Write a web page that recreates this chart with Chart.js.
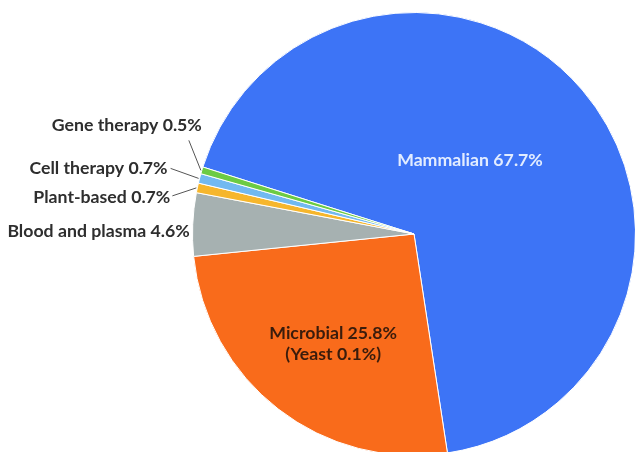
<!DOCTYPE html>
<html>
<head>
<meta charset="utf-8">
<script src="https://cdn.jsdelivr.net/npm/chart.js@4/dist/chart.umd.min.js"></script>
<style>
  html, body { margin: 0; padding: 0; overflow: hidden; background: #fff; }
  #wrap { position: absolute; left: 0; top: 0; width: 640px; height: 470px; }
</style>
</head>
<body>
<div id="wrap"><canvas id="chart"></canvas></div>
<script>
const categories = ['Mammalian', 'Microbial', 'Blood and plasma', 'Plant-based', 'Cell therapy', 'Gene therapy'];
const shares = [67.7, 25.8, 4.6, 0.7, 0.7, 0.5];
const sliceColors = ['#3d74f6', '#f96b1b', '#a6b1b1', '#f6b62c', '#72b9f0', '#6ccb43'];
const yeastShare = 0.1;

// label placement for the small slices outside the pie (offset from slice edge)
const outsideLabels = {
  'Gene therapy': { dx: 2, dy: -45, lx: -13, ly: -30 },
  'Cell therapy': { dx: -30, dy: -10, lx: -29, ly: -10 },
  'Plant-based': { dx: -25, dy: 9, lx: -25, ly: 8 },
  'Blood and plasma': { dx: -1, dy: 7, lx: null, ly: null }
};

const pieLabels = {
  id: 'pieLabels',
  afterDatasetsDraw(chart) {
    const ctx = chart.ctx;
    const arcs = chart.getDatasetMeta(0).data;
    ctx.save();
    ctx.font = 'bold 17.7px Lato';
    ctx.textBaseline = 'middle';

    arcs.forEach((arc, i) => {
      const name = categories[i];
      const txt = name + ' ' + shares[i] + '%';
      const mid = (arc.startAngle + arc.endAngle) / 2;
      const ex = arc.x + Math.cos(mid) * arc.outerRadius;
      const ey = arc.y + Math.sin(mid) * arc.outerRadius;

      if (name === 'Mammalian') {
        ctx.fillStyle = '#e2ecff';
        ctx.textAlign = 'center';
        ctx.fillText(txt, arc.x + 56, arc.y - 74);
      } else if (name === 'Microbial') {
        ctx.fillStyle = '#3a1c0c';
        ctx.textAlign = 'center';
        const p = arc.tooltipPosition();
        ctx.fillText(txt, p.x - 13, p.y + 12);
        ctx.fillText('(Yeast ' + yeastShare + '%)', p.x - 13, p.y + 33);
      } else {
        const o = outsideLabels[name];
        ctx.fillStyle = '#2e2e2e';
        ctx.textAlign = 'right';
        if (o.lx !== null) {
          ctx.strokeStyle = '#555';
          ctx.lineWidth = 1;
          ctx.beginPath();
          ctx.moveTo(ex - 1, ey);
          ctx.lineTo(ex + o.lx, ey + o.ly);
          ctx.stroke();
        }
        ctx.fillText(txt, ex + o.dx - 2, ey + o.dy);
      }
    });
    ctx.restore();
  }
};

new Chart(document.getElementById('chart'), {
  type: 'pie',
  data: {
    labels: categories,
    datasets: [{
      data: shares,
      backgroundColor: sliceColors,
      borderColor: '#ffffff',
      borderWidth: 1
    }]
  },
  options: {
    responsive: true,
    maintainAspectRatio: false,
    animation: false,
    rotation: 287.6,
    layout: { padding: { left: 192, top: 12, right: 4, bottom: 14 } },
    plugins: {
      legend: { display: false },
      tooltip: { enabled: false }
    }
  },
  plugins: [pieLabels]
});
</script>
</body>
</html>
